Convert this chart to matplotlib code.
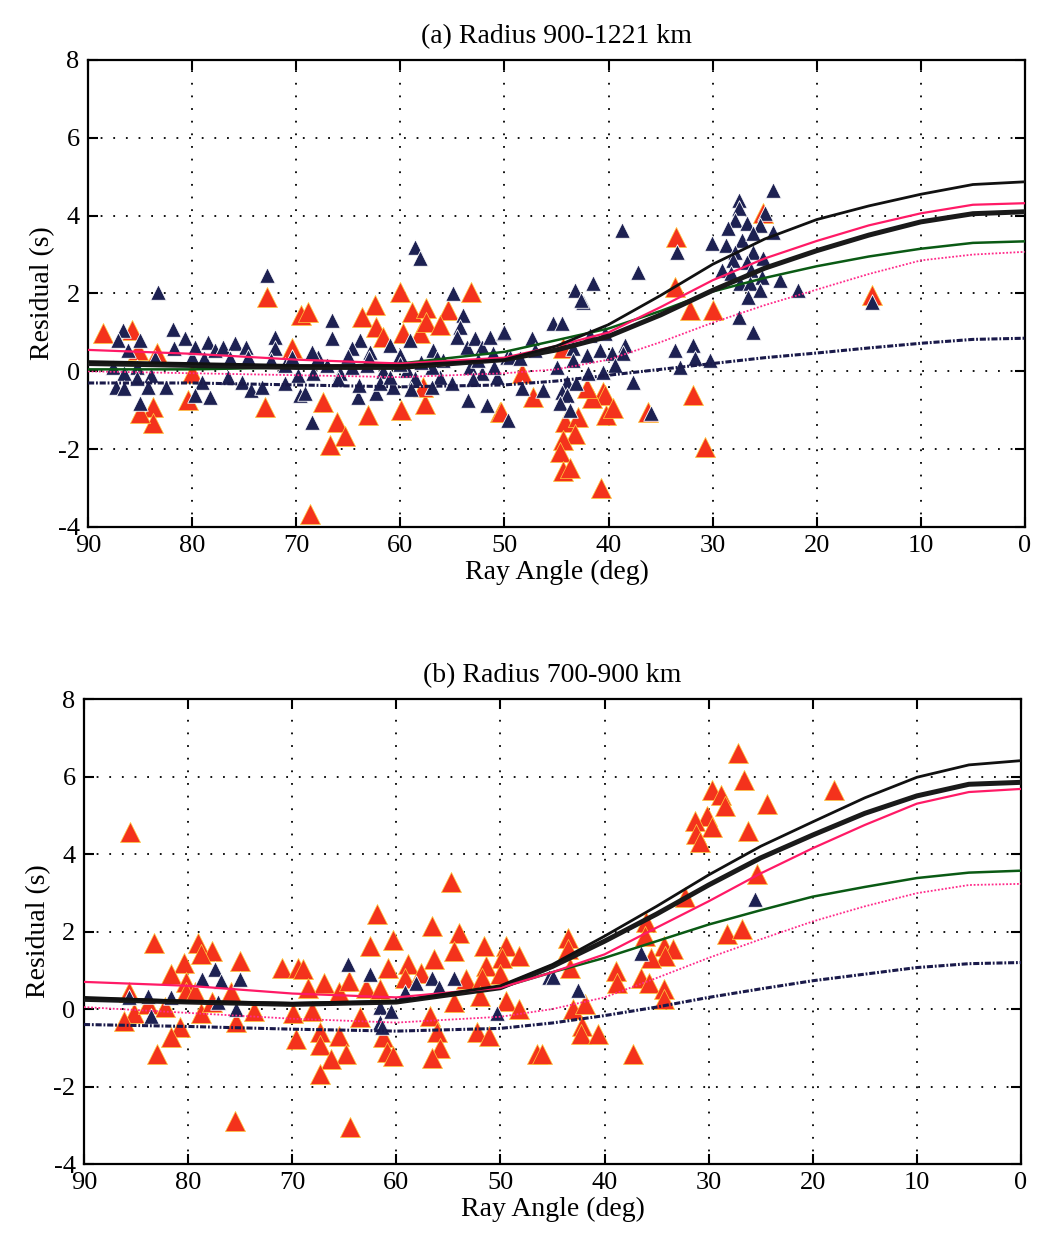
import matplotlib
matplotlib.use("Agg")
import matplotlib.pyplot as plt

plt.rcParams['font.family'] = ['Liberation Serif', 'DejaVu Serif']
plt.rcParams['axes.unicode_minus'] = False

# ---- model curves (ray angle in deg -> residual in s) ----
curve_x = [90, 80, 70, 60, 50, 45, 40, 35, 30, 25, 20, 15, 10, 5, 0]

a_thin_black = [0.25, 0.2, 0.15, 0.15, 0.3, 0.65, 1.2, 1.95, 2.75, 3.4, 3.9, 4.25, 4.55, 4.8, 4.87]
a_thick_black = [0.2, 0.15, 0.1, 0.1, 0.3, 0.55, 0.9, 1.45, 2.08, 2.65, 3.1, 3.5, 3.84, 4.05, 4.1]
a_pink = [0.55, 0.45, 0.3, 0.2, 0.35, 0.65, 1.0, 1.65, 2.34, 2.9, 3.35, 3.75, 4.06, 4.28, 4.32]
a_green = [0.05, 0.05, 0.1, 0.2, 0.5, 0.8, 1.1, 1.55, 2.05, 2.4, 2.7, 2.95, 3.15, 3.3, 3.34]
a_pink_dot = [0.0, -0.05, -0.1, -0.15, -0.05, 0.05, 0.3, 0.75, 1.25, 1.7, 2.1, 2.5, 2.85, 3.0, 3.07]
a_navy = [-0.3, -0.3, -0.35, -0.4, -0.35, -0.25, -0.1, 0.05, 0.2, 0.35, 0.47, 0.6, 0.72, 0.82, 0.85]

b_thin_black = [0.3, 0.2, 0.15, 0.2, 0.6, 1.15, 1.88, 2.65, 3.46, 4.2, 4.83, 5.45, 5.98, 6.3, 6.41]
b_thick_black = [0.25, 0.18, 0.12, 0.18, 0.55, 1.1, 1.75, 2.45, 3.2, 3.9, 4.49, 5.05, 5.5, 5.8, 5.85]
b_pink = [0.7, 0.6, 0.4, 0.3, 0.55, 0.95, 1.41, 2.1, 2.78, 3.5, 4.15, 4.75, 5.3, 5.6, 5.68]
b_green = [0.25, 0.18, 0.12, 0.2, 0.55, 0.95, 1.32, 1.75, 2.18, 2.55, 2.9, 3.15, 3.38, 3.52, 3.57]
b_pink_dot = [0.05, -0.1, -0.25, -0.35, -0.2, 0.0, 0.3, 0.8, 1.32, 1.8, 2.26, 2.65, 2.99, 3.2, 3.23]
b_navy = [-0.4, -0.45, -0.52, -0.57, -0.5, -0.36, -0.17, 0.05, 0.3, 0.52, 0.73, 0.9, 1.07, 1.17, 1.2]

# ---- observed residuals, panel (a) ----
a_red_x = [88.6, 85.8, 85.2, 83.4, 83.8, 83.8, 85.0, 72.8, 73.0, 70.4, 80.0, 80.4, 69.5, 68.9,
           60.0, 53.2, 62.4, 63.7, 58.9, 57.5, 55.4, 62.3, 61.7, 59.7, 58.1, 57.5, 56.2, 67.4,
           63.1, 66.1, 65.3, 66.8, 59.9, 57.6, 50.4, 68.7, 57.8, 33.6, 32.2, 31.9, 48.3, 44.4,
           47.3, 50.3, 40.5, 40.3, 41.6, 42.1, 40.2, 39.6, 44.2, 42.9, 43.2, 44.4, 44.7, 44.4,
           43.7, 40.7, 36.2, 33.5, 30.0, 30.7, 14.7, 25.2]
a_red_y = [0.98, 1.05, 0.54, 0.46, -0.93, -1.34, -1.08, 1.91, -0.92, 0.59, -0.05, -0.75, 1.44, 1.52,
           2.04, 2.04, 1.7, 1.4, 1.52, 1.62, 1.57, 1.14, 0.88, 0.98, 0.98, 1.27, 1.18, -0.79,
           -1.13, -1.3, -1.65, -1.9, -1.0, -0.83, -1.05, -3.66, -0.4, 2.17, 1.57, -0.62, -0.05, 0.59,
           -0.66, -1.05, -0.53, -0.62, -0.69, -0.44, -1.13, -0.95, -1.3, -1.17, -1.6, -1.77, -2.07, -2.55,
           -2.49, -3.01, -1.05, 3.45, 1.57, -1.95, 1.95, 4.06]

a_navy_x = [86.6, 87.1, 85.0, 86.2, 87.6, 86.5, 85.3, 84.0, 87.3, 86.5, 85.3, 84.2, 85.0, 83.6, 82.5,
            83.3, 81.8, 80.7, 81.7, 80.0, 79.7, 78.9, 78.5, 79.1, 79.7, 78.3, 77.8, 77.0, 75.9, 74.8,
            76.4, 74.6, 76.6, 75.2, 74.3, 73.3, 72.0, 72.0, 72.8, 72.4, 71.1, 69.8, 71.1, 70.4, 69.6,
            58.6, 58.1, 66.6, 66.6, 54.9, 54.0, 63.9, 64.6, 62.9, 61.0, 67.9, 68.4, 69.2, 68.5, 65.8,
            64.6, 64.1, 62.3, 63.2, 61.7, 60.0, 59.1, 59.4, 60.7, 58.6, 56.9, 55.9, 56.2, 57.0, 54.3,
            54.6, 53.6, 52.8, 52.2, 51.4, 50.1, 51.1, 53.3, 52.2, 50.7, 49.8, 53.5, 51.7, 49.7,
            62.0, 57.0, 55.0, 53.0, 51.0, 66.0, 64.0, 59.0, 56.5, 52.5, 63.0, 60.0, 65.0, 67.0, 68.5,
            61.0, 58.0,
            37.2, 41.5, 43.2, 42.5, 45.3, 44.5, 50.0, 47.4, 49.5, 48.5, 47.1, 41.8, 40.3, 43.4, 42.1,
            40.8, 39.7, 38.4, 38.6, 43.4, 45.0, 42.0, 40.5, 39.4, 44.0, 43.1, 46.3, 44.5, 44.0, 44.7,
            43.7, 48.3, 37.7, 35.9, 33.6, 31.9, 31.7, 33.1,
            24.2, 27.5, 27.5, 25.0, 27.9, 26.7, 25.5, 28.5, 24.2, 30.1, 28.7, 27.2, 26.1, 26.1, 27.9,
            28.0, 26.7, 25.2, 29.1, 28.2, 26.3, 25.3, 23.5, 27.4, 26.4, 25.5, 21.8, 26.6, 27.5, 26.1,
            33.4, 14.7, 30.3, 38.7, 42.6]
a_navy_y = [1.05, 0.8, 0.8, 0.54, 0.11, -0.05, 0.11, -0.1, -0.4, -0.44, -0.18, -0.4, -0.82, 0.33, -0.4,
            2.04, 1.1, 0.85, 0.59, 0.37, 0.62, 0.33, 0.75, -0.27, -0.62, -0.66, 0.54, 0.62, 0.72, 0.62,
            0.33, 0.37, -0.15, -0.27, -0.49, -0.4, 0.88, 0.59, 2.47, 0.28, 0.15, -0.1, -0.31, 0.37, -0.62,
            3.2, 2.9, 1.31, 0.85, 2.0, 1.44, 0.8, 0.59, 0.5, 0.67, 0.37, -0.05, -0.57, -1.3, -0.05,
            0.11, -0.66, -0.57, 0.15, 0.0, 0.41, 0.8, 0.03, -0.4, -0.18, 0.54, 0.28, -0.15, -0.4, 1.14,
            0.88, 0.62, 0.85, 0.62, 0.88, 0.98, 0.46, 0.11, -0.05, -0.15, 0.37, -0.75, -0.87, -1.26,
            -0.3, 0.1, -0.3, -0.2, 0.1, -0.2, -0.35, -0.45, 0.35, 0.3, 0.35, 0.2, 0.4, 0.15, 0.5,
            -0.15, 0.25,
            2.55, 2.26, 2.08, 1.78, 1.23, 1.23, 1.01, 0.85, 0.37, 0.33, 0.54, 0.93, 0.98, 0.59, 0.41,
            0.54, 0.46, 0.67, 0.46, 0.28, 0.11, -0.05, -0.02, 0.15, -0.27, -0.31, -0.49, -0.53, -0.62, -0.82,
            -1.0, -0.44, -0.27, -1.08, 0.54, 0.67, 0.33, 0.11,
            4.65, 4.4, 4.19, 4.06, 3.88, 3.8, 3.75, 3.68, 3.58, 3.29, 3.24, 3.37, 3.55, 3.07, 3.07,
            2.85, 2.81, 2.9, 2.6, 2.52, 2.6, 2.42, 2.34, 2.26, 2.26, 2.08, 2.08, 1.91, 1.4, 1.01,
            3.07, 1.78, 0.28, 3.62, 1.83]

# ---- observed residuals, panel (b) ----
b_red_x = [85.6, 83.3, 79.0, 77.7, 75.0, 80.4, 81.6, 71.0, 69.4, 80.2, 78.8, 80.2, 85.7, 79.3,
           75.9, 85.2, 86.2, 78.8, 73.7, 75.4, 80.8, 81.6, 83.0, 69.9, 69.6, 75.5, 83.8, 77.7, 82.2,
           54.7, 61.9, 56.6, 60.3, 54.0, 62.5, 54.5, 51.6, 49.5, 48.2, 49.8, 56.4, 60.8, 58.9, 51.4,
           69.0, 66.9, 68.5, 65.5, 64.5, 62.9, 61.6, 59.2, 57.6, 53.3, 51.8, 50.0, 52.0, 54.5, 49.5,
           48.2, 68.1, 63.5, 56.8, 67.3, 65.5, 61.3, 56.1, 52.2, 51.1, 67.3, 64.8, 66.3, 67.3, 60.9,
           60.3, 55.8, 56.6, 46.5, 64.4,
           27.2, 26.6, 29.7, 28.8, 28.4, 24.4, 30.2, 31.3, 29.7, 31.2, 30.8, 26.2, 18.0, 25.4, 32.3,
           36.0, 28.2, 26.8, 43.5, 43.5, 43.3, 36.1, 34.3, 33.4, 34.2, 35.5, 38.9, 38.8, 36.5, 35.7,
           34.3, 34.3, 43.0, 41.9, 42.2, 42.3, 40.6, 46.0, 37.3]
b_red_y = [4.57, 1.71, 1.71, 1.5, 1.24, 1.2, 0.9, 1.06, 1.06, 0.7, 1.43, 0.44, 0.44, 0.44,
           0.44, -0.09, -0.3, -0.09, -0.04, -0.34, -0.47, -0.73, -1.15, -0.09, -0.77, -2.9, 0.13, 0.17, 0.05,
           3.29, 2.44, 2.14, 1.79, 1.97, 1.62, 1.5, 1.62, 1.62, 1.36, 1.32, 1.28, 1.06, 1.15, 1.11,
           1.02, 0.68, 0.55, 0.43, 0.73, 0.55, 0.51, 0.81, 0.94, 0.77, 0.81, 0.9, 0.34, 0.17, 0.21,
           0.0, -0.04, -0.21, -0.17, -0.6, -0.69, -0.73, -0.6, -0.6, -0.69, -0.94, -1.15, -1.28, -1.67, -1.11,
           -1.2, -1.0, -1.26, -1.15, -3.04,
           6.6, 5.92, 5.66, 5.53, 5.24, 5.28, 4.99, 4.86, 4.7, 4.52, 4.31, 4.59, 5.64, 3.48, 2.88,
           2.24, 1.94, 2.07, 1.84, 1.54, 1.07, 1.88, 1.62, 1.54, 1.37, 1.32, 0.98, 0.68, 0.81, 0.68,
           0.51, 0.26, 0.0, 0.13, -0.43, -0.64, -0.64, -1.15, -1.15]

b_navy_x = [85.7, 83.8, 83.6, 81.6, 78.7, 77.4, 76.8, 75.0, 77.1, 75.4,
            64.6, 62.5, 61.6, 60.5, 61.6, 61.4, 59.2, 58.1, 56.6, 55.9, 54.5, 50.3, 45.3,
            44.9, 42.5, 36.5, 25.5]
b_navy_y = [0.3, 0.34, -0.17, 0.3, 0.77, 1.02, 0.73, 0.77, 0.17, 0.0,
            1.17, 0.9, 0.04, -0.04, -0.34, -0.47, 0.44, 0.66, 0.79, 0.57, 0.79, -0.09, 0.83,
            0.83, 0.49, 1.45, 2.84]

RED = '#f4321c'
RED_EDGE = '#ffcf40'
NAVY = '#1d2152'

fig = plt.figure(figsize=(10.52, 12.37), dpi=100)
ax_a = fig.add_axes([0.0837, 0.574, 0.8906, 0.3775])
ax_b = fig.add_axes([0.0798, 0.059, 0.8907, 0.3759])

panels = [
    (ax_a, '(a) Radius 900-1221 km', a_red_x, a_red_y, a_navy_x, a_navy_y,
     [a_thin_black, a_thick_black, a_pink, a_green, a_pink_dot, a_navy]),
    (ax_b, '(b) Radius 700-900 km', b_red_x, b_red_y, b_navy_x, b_navy_y,
     [b_thin_black, b_thick_black, b_pink, b_green, b_pink_dot, b_navy]),
]

for ax, title, rx, ry, nx, ny, curves in panels:
    ax.scatter(rx, ry, marker='^', s=210, c=RED, edgecolors=RED_EDGE, linewidths=0.5, zorder=3)
    ax.scatter(nx, ny, marker='^', s=125, c=NAVY, edgecolors='white', linewidths=0.6, zorder=3)

    thin_k, thick_k, pink, green, pink_dot, navy = curves
    ax.plot(curve_x, navy, color='#1a1a4a', lw=2.2, ls=(0, (2, 0.6, 0.6, 0.6)), zorder=4)
    ax.plot(curve_x, pink_dot, color='#ff2a8a', lw=1.3, ls=(0, (1, 1)), zorder=4)
    ax.plot(curve_x, green, color='#0a5a14', lw=1.8, zorder=4)
    ax.plot(curve_x, thick_k, color='#1a1a1a', lw=3.6, zorder=4)
    ax.plot(curve_x, pink, color='#ff1a66', lw=1.6, zorder=5)
    ax.plot(curve_x, thin_k, color='#111111', lw=2.0, zorder=5)

    ax.set_xlim(90, 0)
    ax.set_ylim(-4, 8)
    ax.set_xticks(range(90, -1, -10))
    ax.set_yticks(range(-4, 9, 2))
    ax.grid(True, color='black', lw=1.3, ls=(0, (1, 6)))
    ax.tick_params(direction='in', top=True, right=True, length=7, width=1.5,
                   labelsize=19, pad=6)
    for sp in ax.spines.values():
        sp.set_linewidth(1.6)
    ax.set_xlabel('Ray Angle (deg)', fontsize=20, labelpad=2)
    ax.set_ylabel('Residual (s)', fontsize=20, labelpad=2)
    ax.set_title(title, fontsize=20, pad=12)

fig.savefig('out.png', dpi=100)
